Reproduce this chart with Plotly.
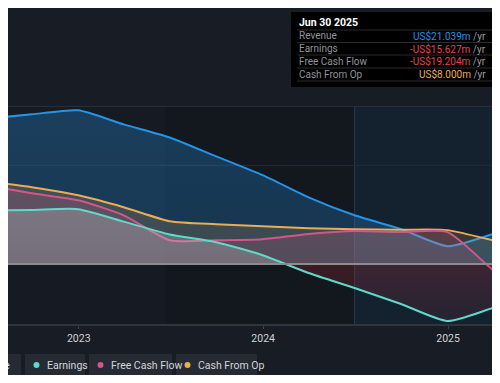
import plotly.graph_objects as go

# ---- data (US$ millions, trailing twelve months) ----
dates = ['2022-06-30', '2022-09-30', '2022-12-31', '2023-03-31', '2023-06-30', '2023-09-30',
         '2023-12-31', '2024-03-31', '2024-06-30', '2024-09-30', '2024-12-31', '2025-03-31',
         '2025-06-30']
revenue = [73.5, 75.8, 77.8, 70.7, 64.1, 54.5, 45.0, 33.8, 24.7, 17.7, 9.1, 15.2, 21.039]
earnings = [27.2, 27.4, 27.8, 21.5, 15.0, 11.1, 4.5, -4.5, -12.1, -20.2, -28.8, -22.2, -15.627]
free_cash_flow = [39.9, 35.9, 32.3, 24.7, 12.1, 12.1, 12.6, 15.2, 16.7, 16.2, 16.2, -3.0, -19.204]
cash_from_op = [41.9, 38.9, 34.8, 28.8, 21.7, 20.2, 19.2, 18.2, 17.7, 17.4, 17.2, 12.1, 8.0]

series_names = ['Revenue', 'Earnings', 'Free Cash Flow', 'Cash From Op']
tick_vals = ['2023-01-01', '2024-01-01', '2025-01-01']
tick_text = ['2023', '2024', '2025']
tooltip_date = 'Jun 30 2025'
highlight_start = '2024-06-30'

X_RANGE = ['2022-08-14', '2025-03-29']
Y_RANGE = [-30.8, 80]

# ---- styling ----
OFF = 8  # page body margin in the viewer
W, H = 500 - 2 * OFF, 383 - 2 * OFF
T = 106 - OFF
B = H - (325 - OFF)
PLOT_H = H - T - B
BG = '#181c24'
PLOT_BG = '#13171e'
C_REV = '#2394e8'
C_EARN = '#5fd9c9'
C_FCF = '#d4558a'
C_CFO = '#e9ad52'
C_NEG_TXT = '#e8434f'
FONT = 'Roboto, "Open Sans", sans-serif'


def px2x(px):
    return (px - OFF) / W


def py2y(py):
    return (H - B - (py - OFF)) / PLOT_H


def grad(rgb, a_top, a_zero, neg_alpha):
    lo, hi = Y_RANGE
    z = (0 - lo) / (hi - lo)
    return dict(
        type='vertical', start=lo, stop=hi,
        colorscale=[
            [0.0, f'rgba(200,45,60,{neg_alpha * 0.4})'],
            [z - 0.001, f'rgba(200,45,60,{neg_alpha})'],
            [z, f'rgba({rgb},{a_zero})'],
            [1.0, f'rgba({rgb},{a_top})'],
        ])


fig = go.Figure()

traces = [
    (revenue, C_REV, '35,148,232', 0.30, 0.24),
    (cash_from_op, C_CFO, '233,173,82', 0.22, 0.16),
    (free_cash_flow, C_FCF, '212,85,138', 0.25, 0.18),
    (earnings, C_EARN, '190,200,200', 0.38, 0.28),
]
for i, (vals, col, rgb, at, az) in enumerate(traces):
    fig.add_trace(go.Scatter(
        x=dates, y=vals, mode='lines',
        line=dict(color=col, width=2, shape='spline', smoothing=0.6),
        fill='tozeroy', fillgradient=grad(rgb, at, az, 0.22),
        hoverinfo='skip', showlegend=False))

XL, XR = px2x(0), px2x(500)
shapes = []
# page background (covers the viewer's body margin)
shapes.append(dict(type='rect', xref='paper', yref='paper', x0=XL, x1=XR,
                   y0=py2y(383), y1=py2y(0), fillcolor=BG, line_width=0, layer='below'))
shapes.append(dict(type='rect', xref='paper', yref='paper', x0=XL, x1=XR,
                   y0=0, y1=1, fillcolor=PLOT_BG, line_width=0, layer='below'))
# background bands
shapes.append(dict(type='rect', xref='paper', yref='paper', x0=XL, x1=px2x(165), y0=0, y1=1,
                   fillcolor='#161a22', line_width=0, layer='below'))
shapes.append(dict(type='rect', xref='x', yref='paper', x0=highlight_start, x1='2025-12-31',
                   y0=0, y1=1, fillcolor='rgba(30,110,170,0.13)', line_width=0, layer='below'))
shapes.append(dict(type='line', xref='x', yref='paper', x0=highlight_start, x1=highlight_start,
                   y0=0, y1=1, line=dict(color='rgba(60,90,115,0.5)', width=1), layer='below'))
# horizontal grid lines
shapes.append(dict(type='line', xref='paper', yref='y', x0=XL, x1=XR, y0=80, y1=80,
                   line=dict(color='#30353e', width=1.5), layer='below'))
shapes.append(dict(type='line', xref='paper', yref='y', x0=XL, x1=XR, y0=50, y1=50,
                   line=dict(color='#262c36', width=1), layer='below'))
shapes.append(dict(type='line', xref='paper', yref='y', x0=XL, x1=XR, y0=0, y1=0,
                   line=dict(color='#8c8c8f', width=2), layer='above'))
shapes.append(dict(type='line', xref='paper', yref='paper', x0=XL, x1=XR, y0=0, y1=0,
                   line=dict(color='#2f343d', width=2), layer='above'))

annotations = []

# ---- tooltip box ----
shapes.append(dict(type='rect', xref='paper', yref='paper', x0=px2x(291), x1=XR,
                   y0=py2y(87), y1=py2y(12), fillcolor='#000000', line_width=0, layer='above'))
annotations.append(dict(xref='paper', yref='paper', x=px2x(297), y=py2y(23), text='<b>' + tooltip_date + '</b>',
                        showarrow=False, xanchor='left', yanchor='middle',
                        font=dict(size=10.5, color='#ffffff', family=FONT)))
row_y = [36, 48.5, 61, 74]
sep_y = [30, 42.5, 55, 68, 81]
for sy in sep_y:
    shapes.append(dict(type='line', xref='paper', yref='paper', x0=px2x(297), x1=XR,
                       y0=py2y(sy), y1=py2y(sy), line=dict(color='#2b2b2b', width=1), layer='above'))


def fmt(v):
    s = f'US${abs(v):.3f}m'
    return ('-' + s) if v < 0 else s


last_vals = [revenue[-1], earnings[-1], free_cash_flow[-1], cash_from_op[-1]]
pos_cols = [C_REV, C_EARN, C_FCF, C_CFO]
for name, v, c, ry in zip(series_names, last_vals, pos_cols, row_y):
    col = C_NEG_TXT if v < 0 else c
    annotations.append(dict(xref='paper', yref='paper', x=px2x(297), y=py2y(ry), text=name,
                            showarrow=False, xanchor='left', yanchor='middle',
                            font=dict(size=10, color='#8f939a', family=FONT)))
    annotations.append(dict(xref='paper', yref='paper', x=px2x(488), y=py2y(ry),
                            text=f'<span style="color:{col}">{fmt(v)}</span> /yr',
                            showarrow=False, xanchor='right', yanchor='middle',
                            font=dict(size=10, color='#9a9ea5', family=FONT)))

# ---- legend pills ----
legend_items = [
    ('Revenue', C_REV, -52, 21),
    ('Earnings', C_EARN, 25, 85),
    ('Free Cash Flow', C_FCF, 89, 172),
    ('Cash From Op', C_CFO, 176, 257),
]
for name, col, x0, x1 in legend_items:
    shapes.append(dict(type='rect', xref='paper', yref='paper', x0=max(px2x(x0), XL), x1=px2x(x1),
                       y0=py2y(376), y1=py2y(354), fillcolor='#252a33', line_width=0, layer='above'))
    shapes.append(dict(type='circle', xref='paper', yref='paper', x0=px2x(x0 + 8.5), x1=px2x(x0 + 14.5),
                       y0=py2y(368), y1=py2y(362), fillcolor=col, line_width=0, layer='above'))
    annotations.append(dict(xref='paper', yref='paper', x=px2x(x0 + 20), y=py2y(365), text=name,
                            showarrow=False, xanchor='left', yanchor='middle',
                            font=dict(size=10.5, color='#d2d5da', family=FONT)))

fig.update_layout(
    width=W, height=H,
    margin=dict(l=0, r=0, t=T, b=B, pad=0),
    paper_bgcolor=BG, plot_bgcolor=PLOT_BG,
    shapes=shapes, annotations=annotations,
    showlegend=False,
    xaxis=dict(type='date', range=X_RANGE, tickvals=tick_vals, ticktext=tick_text,
               showgrid=False, zeroline=False, showline=False,
               ticks='outside', ticklen=3, tickcolor='#3c414a', tickwidth=1,
               tickfont=dict(size=10.5, color='#cfd2d6', family=FONT)),
    yaxis=dict(range=Y_RANGE, showgrid=False, zeroline=False, showticklabels=False, showline=False),
    font=dict(family=FONT),
)

fig.write_html('out.html')
